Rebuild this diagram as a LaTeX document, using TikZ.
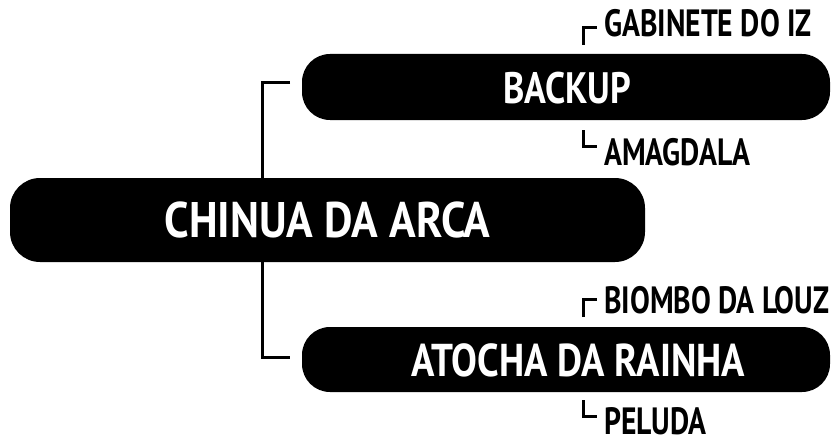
\documentclass[tikz,border=0pt]{standalone}
\usepackage{fontspec}
\setmainfont{PT Sans}
\newfontfamily\mainfnt{PT Sans}[FakeStretch=0.88]
\newfontfamily\lblf{PT Sans}[FakeStretch=0.78]
\newfontfamily\bkf{PT Sans}[FakeStretch=0.82]
\newfontfamily\atf{PT Sans}[FakeStretch=0.84]
\begin{document}
\begin{tikzpicture}[x=1pt,y=-1pt,
  pill/.style={fill=black,rounded corners=30pt,inner sep=0pt,text=white},
  pilltext/.style={text=white,inner sep=0pt},
  lbl/.style={anchor=base west,inner sep=0pt,font=\lblf\bfseries\fontsize{38}{38}\selectfont},
  conn/.style={line width=3pt},
  brk/.style={line width=3pt}]
\useasboundingbox (0,0) rectangle (836,436);
\coordinate (top) at (262,83);
\coordinate (bot) at (262,357);
\coordinate (topend) at (290,83);
\coordinate (botend) at (290,357);
\draw[conn] (topend) -- (top) -- (bot) -- (botend);
\node[pill,minimum width=635pt,minimum height=84pt] (main) at (327.5,220) {};
\node[pilltext,font=\mainfnt\bfseries\fontsize{50}{50}\selectfont] (maint) at (main) {CHINUA DA ARCA};
\node[pill,rounded corners=28pt,minimum width=528pt,minimum height=66pt] (backup) at (566,87) {};
\node[pilltext,font=\bkf\bfseries\fontsize{44}{44}\selectfont] (backupt) at (567,88) {BACKUP};
\node[pill,rounded corners=28pt,minimum width=528pt,minimum height=65pt] (atocha) at (566,359.5) {};
\node[pilltext,font=\atf\bfseries\fontsize{46}{46}\selectfont] (atochat) at (578,360) {ATOCHA DA RAINHA};
\node[lbl] (gab) at (604,37) {GABINETE DO IZ};
\node[lbl] (amg) at (604,165) {AMAGDALA};
\node[lbl] (bio) at (604,313) {BIOMBO DA LOUZ};
\node[lbl] (pel) at (604,434) {PELUDA};
\coordinate (g1) at (583,45); \coordinate (g2) at (583,28); \coordinate (g3) at (597,28);
\coordinate (a1) at (583,130); \coordinate (a2) at (583,146); \coordinate (a3) at (597,146);
\coordinate (b1) at (583,317); \coordinate (b2) at (583,299); \coordinate (b3) at (597,299);
\coordinate (p1) at (583,400); \coordinate (p2) at (583,416); \coordinate (p3) at (597,416);
\draw[brk] (g1) -- (g2) -- (g3);
\draw[brk] (a1) -- (a2) -- (a3);
\draw[brk] (b1) -- (b2) -- (b3);
\draw[brk] (p1) -- (p2) -- (p3);
\end{tikzpicture}
\end{document}
